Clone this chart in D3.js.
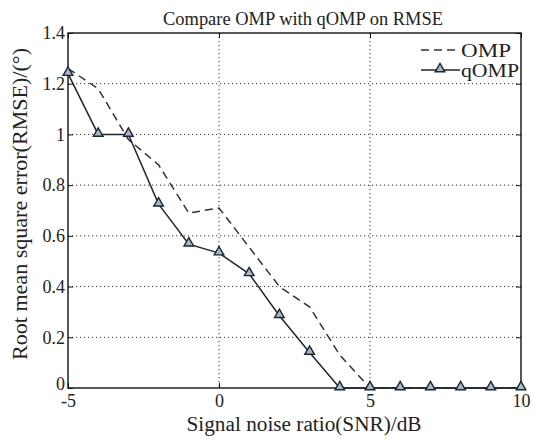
<!DOCTYPE html>
<html><head><meta charset="utf-8">
<script src="https://cdn.jsdelivr.net/npm/d3@7"></script>
<style>body{margin:0;background:#fff}svg{display:block}text{font-family:"Liberation Serif","DejaVu Serif",serif !important;fill:#222}</style>
</head><body><svg id="c" width="535" height="440"></svg>
<script>
const snr = [-5,-4,-3,-2,-1,0,1,2,3,4,5,6,7,8,9,10];
const omp = [1.26,1.18,0.98,0.88,0.69,0.71,0.555,0.40,0.32,0.13,0,0,0,0,0,0];
const qomp = [1.24,1.0,1.0,0.725,0.567,0.532,0.45,0.285,0.14,0,0,0,0,0,0,0];
const xTicks = [-5,0,5,10];
const yTicks = [0,0.2,0.4,0.6,0.8,1,1.2,1.4];
const xTickLabels = ["-5","0","5","10"];
const yTickLabels = ["0","0.2","0.4","0.6","0.8","1","1.2","1.4"];
const seriesNames = ["OMP","qOMP"];

const svg = d3.select("#c");
const L=68,R=521,T=33,B=388;
const x = d3.scaleLinear().domain([-5,10]).range([L,R]);
const y = d3.scaleLinear().domain([0,1.4]).range([B,T]);

// grid
const g = svg.append("g");
g.selectAll(".gx").data(xTicks.filter(d=>d>-5&&d<10)).join("line")
 .attr("x1",d=>x(d)).attr("x2",d=>x(d)).attr("y1",T).attr("y2",B)
 .attr("stroke","#333").attr("stroke-width",1).attr("stroke-dasharray","1.2,2.8");
g.selectAll(".gy").data(yTicks.filter(d=>d>0&&d<1.4)).join("line")
 .attr("y1",d=>y(d)).attr("y2",d=>y(d)).attr("x1",L).attr("x2",R)
 .attr("stroke","#333").attr("stroke-width",1).attr("stroke-dasharray","1.2,2.8");

// axes with inward ticks
const ax = svg.append("g").attr("transform",`translate(0,${B})`)
 .call(d3.axisBottom(x).tickValues(xTicks).tickSize(-5).tickPadding(6).tickFormat((d,i)=>xTickLabels[i]));
const axT = svg.append("g").attr("transform",`translate(0,${T})`)
 .call(d3.axisTop(x).tickValues(xTicks).tickSize(-5).tickFormat(""));
const ay = svg.append("g").attr("transform",`translate(${L},0)`)
 .call(d3.axisLeft(y).tickValues(yTicks).tickSize(-5).tickPadding(3).tickFormat((d,i)=>yTickLabels[i]));
const ayR = svg.append("g").attr("transform",`translate(${R},0)`)
 .call(d3.axisRight(y).tickValues(yTicks).tickSize(-5).tickFormat(""));
[ax,axT,ay,ayR].forEach(a=>{a.select(".domain").remove();a.selectAll("line").attr("stroke","#111");a.attr("font-family",null).attr("font-size",null);});
ax.selectAll("text").attr("font-size",18).attr("fill","#222");
ay.selectAll("text").attr("font-size",18).attr("fill","#222");
ay.selectAll("text").filter(d=>d===0).attr("dy","0.1em");
svg.append("rect").attr("x",L).attr("y",T).attr("width",R-L).attr("height",B-T)
 .attr("fill","none").attr("stroke","#111").attr("stroke-width",1.4);

const line = d3.line().x((d,i)=>x(snr[i])).y(d=>y(d));
svg.append("path").datum(omp).attr("d",line).attr("fill","none")
 .attr("stroke","#3a2f33").attr("stroke-width",1.5).attr("stroke-dasharray","8,5");
svg.append("path").datum(qomp).attr("d",line).attr("fill","none")
 .attr("stroke","#1b2735").attr("stroke-width",1.5);
const tri = d3.symbol().type(d3.symbolTriangle).size(40);
svg.selectAll(".m").data(qomp).join("path")
 .attr("transform",(d,i)=>`translate(${x(snr[i])},${y(d)-1})`).attr("d",tri)
 .attr("fill","#a8b8c6").attr("stroke","#1b2735").attr("stroke-width",1.4);

// legend
svg.append("line").attr("x1",421).attr("x2",460).attr("y1",50).attr("y2",50)
 .attr("stroke","#3a2f33").attr("stroke-width",1.5).attr("stroke-dasharray","8,5");
svg.append("text").attr("x",461).attr("y",56.5).attr("font-size",18).attr("textLength",50).attr("lengthAdjust","spacingAndGlyphs").text(seriesNames[0]);
svg.append("line").attr("x1",421).attr("x2",460).attr("y1",70).attr("y2",70)
 .attr("stroke","#1b2735").attr("stroke-width",1.5);
svg.append("path").attr("transform","translate(440,69)").attr("d",tri)
 .attr("fill","#a8b8c6").attr("stroke","#1b2735").attr("stroke-width",1.4);
svg.append("text").attr("x",461).attr("y",76.5).attr("font-size",18).attr("textLength",58).attr("lengthAdjust","spacingAndGlyphs").text(seriesNames[1]);

// title & labels
svg.append("text").attr("x",303).attr("y",25).attr("text-anchor","middle").attr("font-size",18)
 .attr("textLength",280).attr("lengthAdjust","spacingAndGlyphs").text("Compare OMP with qOMP on RMSE");
svg.append("text").attr("x",304).attr("y",431).attr("text-anchor","middle").attr("font-size",20)
 .attr("textLength",235).attr("lengthAdjust","spacingAndGlyphs").text("Signal noise ratio(SNR)/dB");
svg.append("text").attr("transform","translate(27,204) rotate(-90)").attr("text-anchor","middle").attr("font-size",20)
 .attr("textLength",312).attr("lengthAdjust","spacingAndGlyphs").text("Root mean square error(RMSE)/(°)");
</script></body></html>
